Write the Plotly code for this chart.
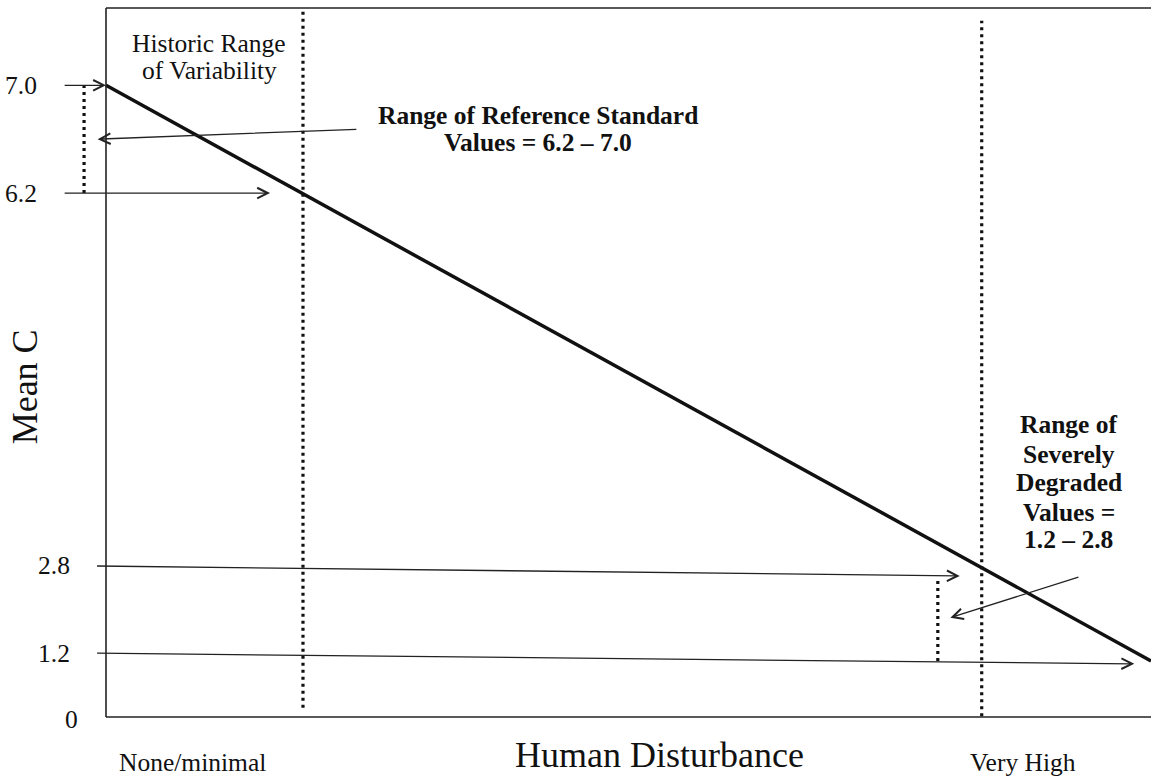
import plotly.graph_objects as go

# Conceptual diagram: x = human disturbance (0..100), y = position on a
# schematic Mean C scale (labels are not linear, so ticks are placed by hand).
FONT = "Liberation Serif, Times New Roman, serif"
INK = "#111111"
THIN = "#222222"

# main decline line
DIST = [0, 100]
MEAN_C = [89.1, 7.9]

# y tick labels (position on schematic scale, label, right edge x)
TICK_TEXT = ["7.0", "6.2", "2.8", "1.2", "0"]
TICK_POS = [89.1, 73.9, 21.3, 9.0, -0.3]
TICK_RIGHT = [-6.4, -6.4, -3.25, -3.25, -2.5]

# dotted vertical markers: x, y_bottom, y_top
DOT_X = [18.85, 83.8, -2.1, 79.6]
DOT_Y0 = [1.3, 0.1, 73.9, 7.9]
DOT_Y1 = [100.0, 98.2, 89.1, 19.7]

# arrows: tail -> head
ARROW_TAIL_X = [-4.1, -4.1, 24.1, -1.0, -1.0, 93.2]
ARROW_TAIL_Y = [89.1, 73.9, 82.9, 21.3, 9.0, 19.8]
ARROW_HEAD_X = [0.0, 15.7, -0.8, 81.7, 98.4, 80.8]
ARROW_HEAD_Y = [89.1, 73.9, 81.5, 19.9, 7.5, 14.0]

# text blocks, one entry per line
HISTORIC_LINES = ["Historic Range", "of Variability"]
HISTORIC_Y = [95.0, 91.2]
REF_LINES = ["Range of Reference Standard", "Values = 6.2 – 7.0"]
REF_Y = [84.9, 81.0]
SEVERE_LINES = ["Range of", "Severely", "Degraded", "Values =", "1.2 – 2.8"]
SEVERE_Y = [41.2, 37.0, 33.1, 28.9, 25.0]

fig = go.Figure()

fig.add_trace(go.Scatter(x=DIST, y=MEAN_C, mode="lines",
                         line=dict(color=INK, width=3.5), showlegend=False, hoverinfo="skip"))

for x, y0, y1 in zip(DOT_X, DOT_Y0, DOT_Y1):
    fig.add_trace(go.Scatter(x=[x, x], y=[y0, y1], mode="lines",
                             line=dict(color=INK, width=3.2, dash="3px,4px"),
                             showlegend=False, hoverinfo="skip"))

# frame (left, top, bottom)
for x0, y0, x1, y1 in ((0, 0, 0, 100), (0, 100, 100, 100), (0, 0, 100, 0)):
    fig.add_shape(type="line", x0=x0, y0=y0, x1=x1, y1=y1, xref="x", yref="y",
                  line=dict(color=THIN, width=1.6))

for tx, ty, hx, hy in zip(ARROW_TAIL_X, ARROW_TAIL_Y, ARROW_HEAD_X, ARROW_HEAD_Y):
    fig.add_annotation(x=hx, y=hy, ax=tx, ay=ty, xref="x", yref="y", axref="x", ayref="y",
                       text="", showarrow=True, arrowhead=5, arrowsize=1.6,
                       arrowwidth=1.3, arrowcolor=THIN, standoff=0)


def label(x, y, txt, size=25.5, bold=False, **kw):
    if bold:
        txt = f"<b>{txt}</b>"
    fig.add_annotation(x=x, y=y, text=txt, showarrow=False, yanchor="middle",
                       font=dict(family=FONT, size=size, color=INK), **kw)


for txt, pos, right in zip(TICK_TEXT, TICK_POS, TICK_RIGHT):
    label(right, pos, txt, xanchor="right")

for txt, y in zip(HISTORIC_LINES, HISTORIC_Y):
    label(9.9, y, txt, xanchor="center")
for txt, y in zip(REF_LINES, REF_Y):
    label(41.3, y, txt, bold=True, xanchor="center")
for txt, y in zip(SEVERE_LINES, SEVERE_Y):
    label(92.15, y, txt, bold=True, xanchor="center")

label(8.3, -6.4, "None/minimal", xanchor="center")
label(87.75, -6.4, "Very High", xanchor="center")
label(53.0, -5.4, "Human Disturbance", size=36, xanchor="center")
label(-7.75, 46.5, "Mean C", size=36, textangle=-90)

fig.update_layout(
    width=1151, height=776, margin=dict(l=0, r=0, t=0, b=0),
    paper_bgcolor="white", plot_bgcolor="white", showlegend=False,
    xaxis=dict(range=[-10.144, 100.0], visible=False),
    yaxis=dict(range=[-8.32, 101.13], visible=False),
)

fig.write_html("out.html", config={"displayModeBar": False},
               post_script="document.body.style.margin='0';")
